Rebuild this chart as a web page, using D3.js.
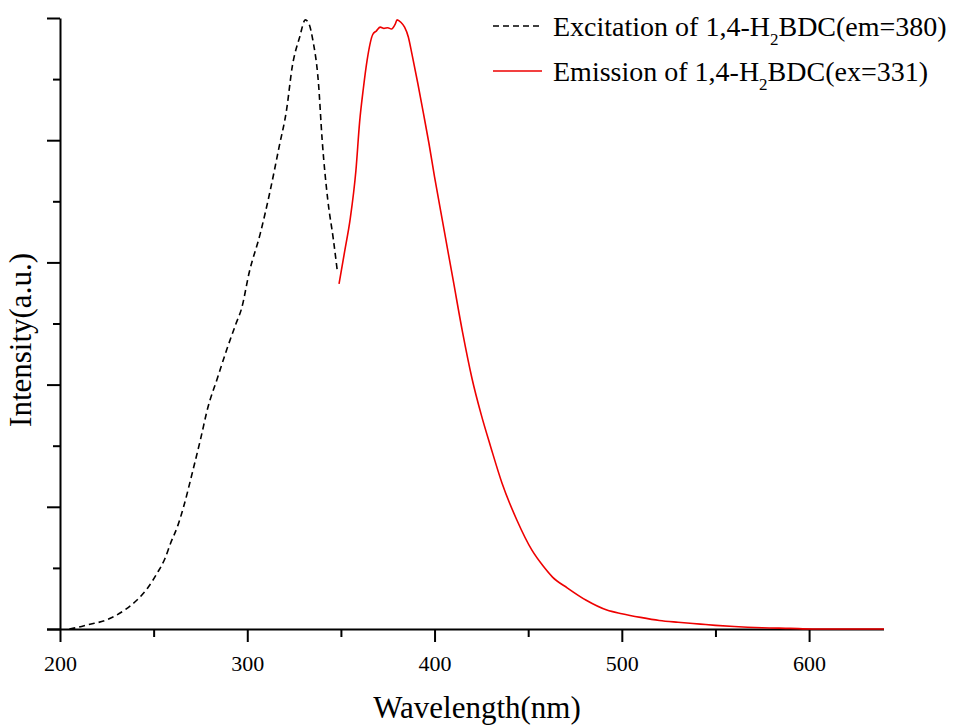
<!DOCTYPE html>
<html>
<head>
<meta charset="utf-8">
<script src="https://cdn.jsdelivr.net/npm/d3@7"></script>
<style>
  body { margin: 0; background: #fff; }
  svg { display: block; font-family: "Liberation Serif", "Times New Roman", serif; }
  .tick text { font-family: "Liberation Serif", "Times New Roman", serif; font-size: 22px; }
</style>
</head>
<body>
<svg id="chart" width="977" height="727"></svg>
<script>
// excitation spectrum (em=380), normalised intensity
var exWave = [205, 210, 215, 225, 235, 241, 247, 252, 256, 259, 263, 266, 271, 275, 279, 284, 289, 294, 297, 301, 307, 312, 317, 321, 324, 328, 331, 333, 335, 338, 340, 343, 346, 348];
var exInt  = [0.0, 0.003, 0.007, 0.015, 0.032, 0.047, 0.068, 0.092, 0.115, 0.14, 0.17, 0.20, 0.26, 0.31, 0.363, 0.41, 0.457, 0.50, 0.525, 0.583, 0.648, 0.714, 0.789, 0.85, 0.92, 0.969, 0.997, 0.99, 0.964, 0.894, 0.80, 0.702, 0.637, 0.588];

// emission spectrum (ex=331)
var emWave = [349, 352, 355, 358, 360, 362, 364, 367, 369, 371, 373, 375, 377, 379, 380, 382, 384, 386, 388, 391, 394, 397, 400, 405, 410, 415, 420, 425, 430, 436, 444, 452, 458, 463, 471, 481, 492, 500, 510, 520, 530, 542, 550, 560, 575, 590, 602, 620, 640];
var emInt  = [0.565, 0.618, 0.672, 0.75, 0.83, 0.885, 0.931, 0.973, 0.979, 0.985, 0.983, 0.984, 0.982, 0.99, 0.997, 0.993, 0.985, 0.969, 0.94, 0.894, 0.845, 0.795, 0.74, 0.655, 0.57, 0.485, 0.41, 0.35, 0.298, 0.239, 0.178, 0.129, 0.103, 0.085, 0.067, 0.047, 0.031, 0.025, 0.019, 0.014, 0.011, 0.008, 0.006, 0.004, 0.002, 0.001, 0.0, 0.0, 0.0];

var xMajor = [200, 300, 400, 500, 600];
var xMinor = [250, 350, 450, 550];
var yMajor = [0, 0.2, 0.4, 0.6, 0.8, 1.0];
var yMinor = [0.1, 0.3, 0.5, 0.7, 0.9];

var legendLabels = [
  {pre: "Excitation of 1,4-H", sub: "2", post: "BDC(em=380)"},
  {pre: "Emission of 1,4-H", sub: "2", post: "BDC(ex=331)"}
];

var svg = d3.select('#chart');
var x = d3.scaleLinear().domain([200, 640]).range([60, 884]);
var y = d3.scaleLinear().domain([0, 1]).range([629, 18]);

// axes
var xAx = svg.append('g').attr('transform', 'translate(0,629)')
  .call(d3.axisBottom(x).tickValues(xMajor).tickSize(13).tickSizeOuter(0).tickFormat(d3.format('d')));
svg.append('g').attr('transform', 'translate(0,629)')
  .call(d3.axisBottom(x).tickValues(xMinor).tickSize(8).tickSizeOuter(0).tickFormat(''))
  .select('.domain').remove();
var yAx = svg.append('g').attr('transform', 'translate(60,0)')
  .call(d3.axisLeft(y).tickValues(yMajor).tickSize(13).tickSizeOuter(0).tickFormat(''));
svg.append('g').attr('transform', 'translate(60,0)')
  .call(d3.axisLeft(y).tickValues(yMinor).tickSize(7).tickSizeOuter(0).tickFormat(''))
  .select('.domain').remove();

svg.selectAll('.domain').attr('stroke', '#000').attr('stroke-width', 2);
svg.selectAll('.tick line').attr('stroke', '#000').attr('stroke-width', 2);
xAx.select('.domain').attr('d', 'M47,0.5H884');
xAx.attr('font-family', null).attr('font-size', null);
xAx.selectAll('.tick text').attr('fill', '#000').attr('y', 26).attr('dy', '0.71em');

// axis titles
svg.append('text').attr('x', 477).attr('y', 718).attr('text-anchor', 'middle')
  .attr('font-size', 31).text('Wavelength(nm)');
svg.append('text').attr('transform', 'translate(31,340) rotate(-90)').attr('text-anchor', 'middle')
  .attr('font-size', 31).text('Intensity(a.u.)');

// curves
var line = d3.line().x(function (d) { return x(d[0]); }).y(function (d) { return y(d[1]); }).curve(d3.curveMonotoneX);
svg.append('path').datum(d3.zip(exWave, exInt)).attr('d', line)
  .attr('fill', 'none').attr('stroke', '#000').attr('stroke-width', 1.6).attr('stroke-dasharray', '6,4');
svg.append('path').datum(d3.zip(emWave, emInt)).attr('d', line)
  .attr('fill', 'none').attr('stroke', '#ee0000').attr('stroke-width', 1.6);

// legend
var lg = svg.append('g');
var styles = [{c: '#000', dash: '6,4'}, {c: '#ee0000', dash: null}];
legendLabels.forEach(function (l, i) {
  var yy = 26 + i * 45;
  lg.append('line').attr('x1', 493).attr('x2', 542).attr('y1', yy).attr('y2', yy)
    .attr('stroke', styles[i].c).attr('stroke-width', 1.6).attr('stroke-dasharray', styles[i].dash);
  var t = lg.append('text').attr('x', 553).attr('y', yy + 10).attr('font-size', 28).attr('fill', '#000');
  t.append('tspan').text(l.pre);
  t.append('tspan').attr('dy', 9).attr('font-size', 17).text(l.sub);
  t.append('tspan').attr('dy', -9).text(l.post);
});
</script>
</body>
</html>
